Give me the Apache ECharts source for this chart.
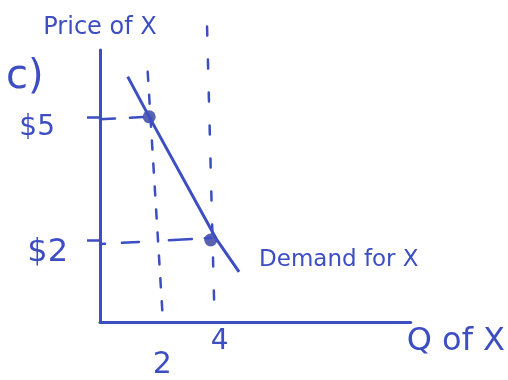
<!DOCTYPE html>
<html>
<head>
<meta charset="utf-8">
<script src="https://cdn.jsdelivr.net/npm/echarts@6/dist/echarts.min.js"></script>
<style>
  html, body { margin: 0; padding: 0; background: #ffffff; }
  #chart { width: 508px; height: 380px; }
</style>
</head>
<body>
<div id="chart"></div>
<script>
// Demand for X: price against quantity, with the two marked bundles
const demandCurve = [[1.3, 5.98], [2, 5], [4.2, 2], [4.92, 1.22]];
const bundles = [[2, 5], [4, 2]];
const guideAt2 = [[1.95, 6.1], [2.43, 0.22]];
const guideAt4 = [[3.88, 7.2], [4.11, 0.49]];
const guideAt5Dollar = [[0.4, 4.94], [1.85, 5.0]];
const guideAt2Dollar = [[0.4, 1.9], [4.01, 2.05]];
// tick labels
const priceTicks = [2, 5];
const quantityTicks = [2, 4];

const ink = '#3c4ec2';
const dotInk = '#2f3c9f';
const font = 'DejaVu Sans';

function guide(data, dash) {
  return {
    type: 'line', data: data, clip: false, symbol: 'none', silent: true,
    lineStyle: { color: ink, width: 2.5, type: dash, cap: 'round' }
  };
}

const chart = echarts.init(document.getElementById('chart'), null, { renderer: 'canvas' });
chart.setOption({
  backgroundColor: '#ffffff',
  animation: false,
  grid: { left: 100, right: 95, top: 50, bottom: 58 },
  xAxis: {
    type: 'value', min: 0.4, max: 10.5,
    name: 'Q of X', nameLocation: 'end', nameGap: -4,
    nameTextStyle: { color: ink, fontFamily: font, fontSize: 32, verticalAlign: 'top', padding: [4, 0, 0, 0] },
    axisLine: { lineStyle: { color: ink, width: 3 } },
    axisTick: { show: false },
    splitLine: { show: false },
    axisLabel: {
      customValues: quantityTicks, color: ink, fontFamily: font, fontSize: 28, margin: 6,
      formatter: v => v === 2 ? '{lo|' + v + '}' : '{hi|' + v + '}',
      rich: {
        lo: { color: ink, fontFamily: font, fontSize: 30, padding: [22, 0, 0, 26] },
        hi: { color: ink, fontFamily: font, fontSize: 28, padding: [0, 0, 0, 18] }
      }
    }
  },
  yAxis: {
    type: 'value', min: 0, max: 6.63,
    name: 'Price of X', nameLocation: 'end', nameGap: 10,
    nameTextStyle: { color: ink, fontFamily: font, fontSize: 24 },
    axisLine: { lineStyle: { color: ink, width: 3 } },
    axisTick: {
      show: true, customValues: priceTicks, length: 13, inside: false,
      lineStyle: { color: ink, width: 2.5 }
    },
    splitLine: { show: false },
    axisLabel: {
      customValues: priceTicks, color: ink, fontFamily: font, fontSize: 28, margin: 32,
      formatter: v => v === 5 ? '{a|$' + v + '}' : '{b|$' + v + '}',
      rich: {
        a: { color: ink, fontFamily: font, fontSize: 28, padding: [22, 13, 0, 0] },
        b: { color: ink, fontFamily: font, fontSize: 32, padding: [26, 0, 0, 0] }
      }
    }
  },
  graphic: [{
    type: 'text', left: 6, top: 58,
    style: { text: 'c)', fill: ink, font: '40px "DejaVu Sans"' }
  }],
  series: [
    guide(guideAt2, [9, 14]),
    guide(guideAt4, [9, 24]),
    guide(guideAt5Dollar, [15, 15, 13, 40]),
    guide(guideAt2Dollar, [5, 17, 17, 30, 23, 13, 9, 40]),
    {
      name: 'Demand for X', type: 'line', data: demandCurve, clip: false,
      symbol: 'none',
      lineStyle: { color: ink, width: 3 },
      endLabel: {
        show: true, formatter: '{a}', offset: [12, -12],
        color: ink, fontFamily: font, fontSize: 23
      }
    },
    {
      type: 'scatter', data: bundles, symbolSize: 13,
      itemStyle: { color: dotInk }
    }
  ]
});
</script>
</body>
</html>
